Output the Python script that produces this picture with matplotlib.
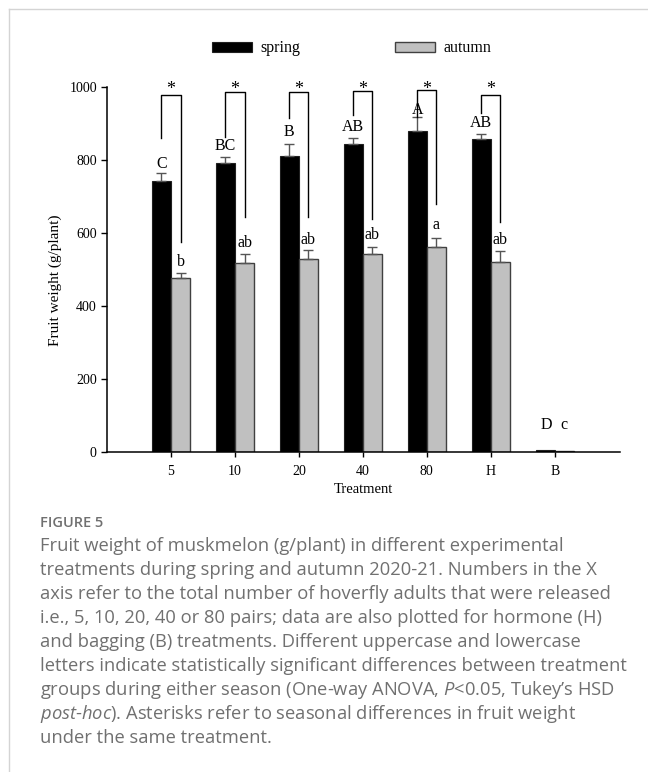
import numpy as np
import matplotlib
matplotlib.use("Agg")
import matplotlib.pyplot as plt
from matplotlib.patches import Patch
from matplotlib.lines import Line2D

# ---------------- data ----------------
treatments = ["5", "10", "20", "40", "80", "H", "B"]
spring = [743, 793, 813, 846, 880, 858, 5]
spring_err = [21, 16, 31, 14, 38, 15, 0]
autumn = [478, 520, 530, 543, 562, 521, 3]
autumn_err = [14, 22, 23, 19, 24, 31, 0]
spring_letters = ["C", "BC", "B", "AB", "A", "AB", "D"]
autumn_letters = ["b", "ab", "ab", "ab", "a", "ab", "c"]
spring_letter_y = [790, 839, 878, 890, 938, 901, 75]
autumn_letter_y = [522, 573, 583, 595, 622, 582, 75]
# significance brackets (first six treatments)
bracket_top = [979, 986, 986, 991, 992, 979]
bracket_left_end = [860, 865, 917, 924, 919, 930]
bracket_right_end = [577, 646, 646, 639, 681, 630]
star_y = 993

caption_title = "FIGURE 5"
caption_lines = [
    "Fruit weight of muskmelon (g/plant) in different experimental",
    "treatments during spring and autumn 2020-21. Numbers in the X",
    "axis refer to the total number of hoverfly adults that were released",
    "i.e., 5, 10, 20, 40 or 80 pairs; data are also plotted for hormone (H)",
    "and bagging (B) treatments. Different uppercase and lowercase",
    "letters indicate statistically significant differences between treatment",
    "groups during either season (One-way ANOVA, $\\mathit{P}$<0.05, Tukey\u2019s HSD",
    "$\\mathit{post}$-$\\mathit{hoc}$). Asterisks refer to seasonal differences in fruit weight",
    "under the same treatment.",
]

# ---------------- style ----------------
plt.rcParams["font.family"] = ["Liberation Serif", "DejaVu Serif"]
plt.rcParams["mathtext.fontset"] = "custom"
plt.rcParams["mathtext.rm"] = "Open Sans"
plt.rcParams["mathtext.it"] = "Open Sans:italic"

W, H = 648, 772
fig = plt.figure(figsize=(W / 100, H / 100), dpi=100)
ax = fig.add_axes([107 / W, 1 - 452.3 / H, (620 - 107) / W, (452.3 - 87.3) / H])

x = np.arange(len(treatments))
bw = 0.3
black = "#000000"
grey = "#c0c0c0"
ecol = "#555555"

ax.bar(x - bw / 2, spring, bw, color=black, edgecolor="#202020", linewidth=0.8, zorder=2)
ax.bar(x + bw / 2, autumn, bw, color=grey, edgecolor="#404040", linewidth=1.0, zorder=2)
ax.errorbar(x[:6] - bw / 2, spring[:6], yerr=[np.zeros(6), spring_err[:6]], fmt="none",
            ecolor=ecol, elinewidth=1.0, capsize=3.6, capthick=1.0, zorder=3)
ax.errorbar(x[:6] + bw / 2, autumn[:6], yerr=[np.zeros(6), autumn_err[:6]], fmt="none",
            ecolor=ecol, elinewidth=1.0, capsize=3.6, capthick=1.0, zorder=3)

# letters
for i in range(len(treatments)):
    if i < 6:
        xs, xa = x[i] - bw / 2, x[i] + bw / 2
    else:
        xs, xa = x[i] - 0.13, x[i] + 0.15
    ax.text(xs, spring_letter_y[i], spring_letters[i], ha="center", va="center",
            fontsize=11.5, color="black")
    ax.text(xa, autumn_letter_y[i], autumn_letters[i], ha="center", va="center",
            fontsize=11.5, color="black")

# brackets + stars
for i in range(6):
    xl, xr = x[i] - bw / 2, x[i] + bw / 2
    ax.plot([xl, xl, xr, xr], [bracket_left_end[i], bracket_top[i], bracket_top[i], bracket_right_end[i]],
            color="black", linewidth=1.0, clip_on=False, zorder=4)
    ax.text((xl + xr) / 2, star_y, "*", ha="center", va="center", fontsize=13, clip_on=False)

ax.set_xlim(-1, 7.02)
ax.set_ylim(0, 1000)
ax.set_yticks([0, 200, 400, 600, 800, 1000])
ax.set_xticks(x)
ax.set_xticklabels(treatments)
for s in ["top", "right"]:
    ax.spines[s].set_visible(False)
for s in ["left", "bottom"]:
    ax.spines[s].set_linewidth(1.1)
ax.tick_params(axis="y", direction="out", length=4.3, width=1.0, pad=3, labelsize=10)
ax.tick_params(axis="x", direction="out", length=3.5, width=1.0, pad=6, labelsize=10)
ax.set_ylabel("Fruit weight (g/plant)", fontsize=11)
ax.yaxis.set_label_coords(-0.088, 0.472)
ax.set_xlabel("Treatment", fontsize=10.5, labelpad=3)

# legend
handles = [Patch(facecolor=black, edgecolor="#202020", linewidth=0.8),
           Patch(facecolor=grey, edgecolor="#404040", linewidth=1.0)]
fig.legend(handles, ["spring", "autumn"], loc="center left",
           bbox_to_anchor=(211.7 / W, 1 - 48.5 / H), ncol=2, frameon=False,
           fontsize=11.5, handlelength=2.55, handleheight=0.62, handletextpad=0.5,
           columnspacing=5.9, borderpad=0, borderaxespad=0)

# card border
fig.add_artist(Line2D([9 / W, 1], [1 - 9 / H, 1 - 9 / H], color="#d4d4d4", linewidth=1.0))
fig.add_artist(Line2D([9 / W, 9 / W], [0, 1 - 9 / H], color="#d4d4d4", linewidth=1.0))

# caption
cap_col = "#707070"
fig.text(40 / W, 1 - 522.7 / H, caption_title, ha="left", va="center", fontsize=10.5,
         family=["Open Sans", "DejaVu Sans"], weight="semibold", color=cap_col)
for k, line in enumerate(caption_lines):
    fig.text(40 / W, 1 - (546 + 24 * k) / H, line, ha="left", va="center", fontsize=13.2,
             family=["Open Sans", "DejaVu Sans"], color=cap_col)

fig.savefig("out.png", dpi=100)
